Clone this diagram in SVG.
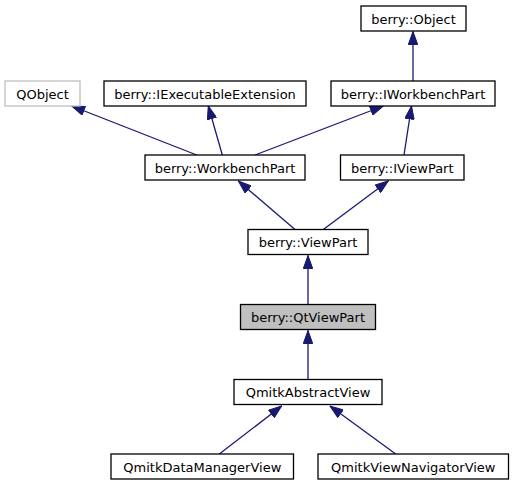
<svg xmlns="http://www.w3.org/2000/svg" width="514" height="485" viewBox="0 0 514 485">
<defs>
<marker id="ah" markerUnits="userSpaceOnUse" markerWidth="14" markerHeight="10" refX="13.5" refY="5" orient="auto">
<path d="M0.5,0.3 L13.5,5 L0.5,9.7 z" fill="#191970" stroke="#191970" stroke-width="1"/>
</marker>
<style>
.n rect{fill:#fff;stroke:#000;stroke-width:1.3}
.n text{font-family:"DejaVu Sans",sans-serif;font-size:13px;fill:#000;text-anchor:middle}
#edges line{stroke:#191970;stroke-width:1.3;marker-end:url(#ah)}
</style>
</defs>
<rect width="514" height="485" fill="#fff"/>
<g id="edges">
<line x1="413" y1="81" x2="413" y2="31.5"/>
<line x1="196.7" y1="155" x2="71.7" y2="106"/>
<line x1="222.3" y1="155" x2="208.3" y2="106"/>
<line x1="255" y1="155" x2="383.3" y2="106"/>
<line x1="404" y1="155" x2="411.5" y2="106"/>
<line x1="295" y1="229.5" x2="238.3" y2="181"/>
<line x1="323.3" y1="229.5" x2="388.3" y2="181"/>
<line x1="308" y1="304.5" x2="308" y2="255.5"/>
<line x1="308" y1="379.5" x2="308" y2="330.5"/>
<line x1="219.3" y1="454" x2="281.7" y2="406"/>
<line x1="395.7" y1="454" x2="330" y2="406"/>
</g>
<g id="n_object" class="n"><rect x="361" y="6" width="105" height="25"/><text x="413.5" y="23.7">berry::Object</text></g>
<g id="n_qobject" class="n"><rect x="5" y="81" width="75" height="25" style="stroke:#bfbfbf"/><text x="42.5" y="98.7">QObject</text></g>
<g id="n_iexec" class="n"><rect x="104" y="81" width="202" height="25"/><text x="205" y="98.7">berry::IExecutableExtension</text></g>
<g id="n_iwbpart" class="n"><rect x="331" y="81" width="164" height="25"/><text x="413" y="98.7">berry::IWorkbenchPart</text></g>
<g id="n_wbpart" class="n"><rect x="145" y="155" width="160" height="25"/><text x="225" y="172.7">berry::WorkbenchPart</text></g>
<g id="n_iviewpart" class="n"><rect x="340.5" y="155" width="123.5" height="25"/><text x="402.3" y="172.7">berry::IViewPart</text></g>
<g id="n_viewpart" class="n"><rect x="248" y="229.5" width="120" height="25"/><text x="308" y="247.2">berry::ViewPart</text></g>
<g id="n_qtviewpart" class="n"><rect x="240.5" y="304.5" width="135" height="25" style="fill:#bfbfbf"/><text x="308" y="322.2">berry::QtViewPart</text></g>
<g id="n_abstract" class="n"><rect x="234" y="379.5" width="148" height="25"/><text x="308" y="397.2">QmitkAbstractView</text></g>
<g id="n_datamgr" class="n"><rect x="111" y="454" width="182.5" height="25"/><text x="202.3" y="471.7">QmitkDataManagerView</text></g>
<g id="n_viewnav" class="n"><rect x="318" y="454" width="190.5" height="25"/><text x="413.3" y="471.7">QmitkViewNavigatorView</text></g>
</svg>
